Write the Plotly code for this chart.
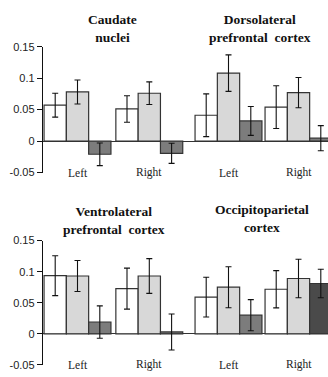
import plotly.graph_objects as go

# ---- data ----
top_regions = ["Caudate<br>nuclei", "Dorsolateral<br>prefrontal  cortex"]
bot_regions = ["Ventrolateral<br>prefrontal  cortex", "Occipitoparietal<br>cortex"]
sides = ["Left", "Right", "Left", "Right"]

# groups in order: region1-Left, region1-Right, region2-Left, region2-Right
top_white = [0.057, 0.051, 0.041, 0.054]
top_white_err = [0.019, 0.021, 0.034, 0.034]
top_light = [0.078, 0.076, 0.108, 0.077]
top_light_err = [0.019, 0.018, 0.029, 0.024]
top_dark = [-0.021, -0.0195, 0.032, 0.0046]
top_dark_err = [0.018, 0.016, 0.023, 0.020]

bot_white = [0.0935, 0.0727, 0.059, 0.0717]
bot_white_err = [0.032, 0.033, 0.032, 0.030]
bot_light = [0.093, 0.093, 0.075, 0.089]
bot_light_err = [0.025, 0.028, 0.033, 0.031]
bot_dark = [0.019, 0.003, 0.030, 0.081]
bot_dark_err = [0.026, 0.029, 0.025, 0.023]

y_ticks = [-0.05, 0, 0.05, 0.1, 0.15]
y_ticktext = ["-0.05", "0", "0.05", "0.1", "0.15"]

# ---- layout helpers ----
W, H = 328, 377
group_pos = [34.5, 106.3, 185.5, 255.5]
bw = 22.3
fill_colors = ["#ffffff", "#d8d8d8", "#7c7c7c"]
dark_bot_colors = ["#7c7c7c", "#7c7c7c", "#7c7c7c", "#4a4a4a"]

fig = go.Figure()

def add_row(xa, ya, series):
    for k, (vals, errs, col) in enumerate(series):
        fig.add_trace(go.Bar(
            x=[g + (k - 1) * bw for g in group_pos],
            y=vals,
            width=bw,
            marker=dict(color=col, line=dict(color="#333333", width=1.2)),
            error_y=dict(type="data", array=errs, visible=True,
                         color="#111111", thickness=1.1, width=3),
            xaxis=xa, yaxis=ya, showlegend=False,
        ))

add_row("x", "y", [(top_white, top_white_err, fill_colors[0]),
                   (top_light, top_light_err, fill_colors[1]),
                   (top_dark, top_dark_err, fill_colors[2])])
add_row("x2", "y2", [(bot_white, bot_white_err, fill_colors[0]),
                     (bot_light, bot_light_err, fill_colors[1]),
                     (bot_dark, bot_dark_err, dark_bot_colors)])

xdom = [43 / W, 1]
ydom_top = [1 - 172 / H, 1 - 42 / H]
ydom_bot = [1 - 370.7 / H, 1 - 242.3 / H]

xcommon = dict(range=[0, 285], visible=False, showgrid=False, zeroline=False)
ycommon = dict(range=[-0.05, 0.15], tickvals=y_ticks, ticktext=y_ticktext,
               showline=True, linecolor="#111111", linewidth=1.4,
               ticks="outside", ticklen=5, tickwidth=1.2, tickcolor="#111111",
               showgrid=False, zeroline=True, zerolinecolor="#333333",
               zerolinewidth=1.4,
               tickfont=dict(family="Liberation Sans", size=11, color="#222222"))

fig.update_layout(
    width=W, height=H,
    margin=dict(l=0, r=0, t=0, b=0),
    paper_bgcolor="white", plot_bgcolor="white",
    barmode="overlay",
    xaxis=dict(domain=xdom, anchor="y", **xcommon),
    yaxis=dict(domain=ydom_top, anchor="x", **ycommon),
    xaxis2=dict(domain=xdom, anchor="y2", **xcommon),
    yaxis2=dict(domain=ydom_bot, anchor="x2", **ycommon),
)

title_font = dict(family="Liberation Serif, serif", size=13.5, color="#111111",
                  weight="bold")
label_font = dict(family="Liberation Serif, serif", size=11.5, color="#222222")

titles = [(top_regions[0], 112, 23.5), (top_regions[1], 260, 23.5),
          (bot_regions[0], 113.7, 221.5), (bot_regions[1], 262, 220)]
for text, xp, yp in titles:
    fig.add_annotation(text=text, xref="paper", yref="paper",
                       x=xp / W, y=1 - yp / H, xanchor="center", yanchor="middle",
                       showarrow=False, font=title_font, align="center")

for xa, ya in [("x", "y"), ("x2", "y2")]:
    for g, s in zip(group_pos, sides):
        fig.add_annotation(text=s, xref=xa, yref=ya, x=g, y=-0.05,
                           xanchor="center", yanchor="middle",
                           showarrow=False, font=label_font)

fig.write_html("out.html")
